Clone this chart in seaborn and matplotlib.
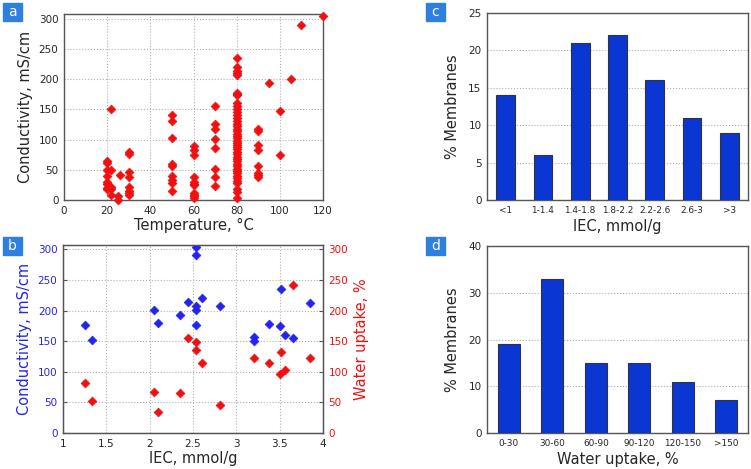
import matplotlib
matplotlib.use("Agg")
import matplotlib.pyplot as plt
import pandas as pd
import seaborn as sns
from matplotlib.patches import Rectangle

# Panel a: conductivity (mS/cm) measured at each temperature (C)
temps_a = [20, 22, 25, 26, 30, 50, 60, 70, 80, 90, 95, 100, 105, 110, 120]
cond_by_temp = [
    [65, 61, 49, 40, 30, 27, 20, 18],
    [150, 50, 22, 19, 8],
    [7, 0],
    [42],
    [80, 76, 46, 38, 22, 15, 12, 8],
    [141, 131, 103, 60, 56, 40, 33, 28, 15],
    [90, 82, 74, 38, 30, 27, 25, 12, 9, 6, 4],
    [156, 126, 118, 101, 86, 51, 38, 23],
    [235, 221, 214, 210, 207, 178, 176, 174, 160, 155, 150, 145, 140, 135,
     130, 126, 122, 118, 114, 110, 106, 102, 98, 95, 91, 88, 84, 80, 76, 72,
     68, 64, 60, 56, 52, 48, 44, 40, 36, 32, 28, 18, 14, 4],
    [118, 114, 91, 83, 56, 45, 41, 38],
    [193],
    [147, 74],
    [201],
    [290],
    [304],
]

# Panel b: conductivity and water uptake vs IEC
iec_cond = [1.25, 1.33, 2.05, 2.10, 2.35, 2.44, 2.53, 2.54, 2.54, 2.54, 2.54,
            2.60, 2.81, 3.20, 3.20, 3.38, 3.50, 3.51, 3.56, 3.65, 3.85]
cond_b = [177, 152, 201, 179, 193, 214, 176, 303, 290, 208, 201,
          221, 208, 156, 150, 178, 175, 235, 160, 155, 212]
iec_wu = [1.25, 1.33, 2.05, 2.10, 2.35, 2.44, 2.53, 2.54, 2.60, 2.81,
          3.20, 3.38, 3.50, 3.51, 3.56, 3.65, 3.85]
wu_b = [82, 53, 67, 34, 65, 155, 135, 149, 115, 45,
        122, 115, 97, 133, 103, 242, 122]

# Panel c: IEC distribution
iec_bins = ["<1", "1-1.4", "1.4-1.8", "1.8-2.2", "2.2-2.6", "2.6-3", ">3"]
iec_pct = [14, 6, 21, 22, 16, 11, 9]

# Panel d: water uptake distribution
wu_bins = ["0-30", "30-60", "60-90", "90-120", "120-150", ">150"]
wu_pct = [19, 33, 15, 15, 11, 7]

sns.set_style("white")
plt.rcParams["font.family"] = ["DejaVu Sans"]

RED = "#f01010"
BLUE = "#2424f0"
BAR = "#0a36d4"
SPINE = "#555555"

W, H = 751, 469
fig = plt.figure(figsize=(W / 100, H / 100), dpi=100)


def px_axes(left, top, right, bottom):
    return fig.add_axes([left / W, 1 - bottom / H, (right - left) / W, (bottom - top) / H])


def style_axes(ax, xgrid=True):
    for s in ax.spines.values():
        s.set_color(SPINE)
        s.set_linewidth(1.0)
    ax.tick_params(direction="in", length=3, labelsize=7.5, pad=4, color=SPINE)
    ax.grid(True, axis="both" if xgrid else "y", linestyle=":", color="#b0b0b0", linewidth=0.8)
    ax.set_axisbelow(True)


def panel_tag(letter, x, y):
    fig.patches.append(Rectangle((x / W, 1 - (y + 18) / H), 19 / W, 18 / H,
                                 transform=fig.transFigure, color="#2f7fe0", zorder=5))
    fig.text((x + 9.5) / W, 1 - (y + 9) / H, letter, color="white", fontsize=10,
             ha="center", va="center", zorder=6)


# ---- a
temp_a, cond_a = [], []
for t, vals in zip(temps_a, cond_by_temp):
    temp_a += [t] * len(vals)
    cond_a += vals

ax_a = px_axes(64, 14, 323, 200)
sns.scatterplot(x=temp_a, y=cond_a, marker="D", s=20, color=RED, edgecolor=RED,
                linewidth=0.5, ax=ax_a, zorder=3, clip_on=False)
ax_a.set_xlim(0, 120)
ax_a.set_ylim(0, 308)
ax_a.set_xticks(range(0, 121, 20))
ax_a.set_yticks(range(0, 301, 50))
style_axes(ax_a)
ax_a.set_xlabel("Temperature, °C", fontsize=10.5, labelpad=2)
ax_a.set_ylabel("Conductivity, mS/cm", fontsize=10.5, labelpad=4)

# ---- b
ax_b = px_axes(63, 245, 323, 433)
sns.scatterplot(x=iec_cond, y=cond_b, marker="D", s=20, color=BLUE, edgecolor=BLUE,
                linewidth=0.5, ax=ax_b, zorder=3)
ax_b.set_xlim(1, 4)
ax_b.set_ylim(0, 307)
ax_b.set_xticks([1, 1.5, 2, 2.5, 3, 3.5, 4])
ax_b.set_xticklabels(["1", "1.5", "2", "2.5", "3", "3.5", "4"])
ax_b.set_yticks(range(0, 301, 50))
style_axes(ax_b)
ax_b.tick_params(axis="y", labelcolor=BLUE)
ax_b.set_xlabel("IEC, mmol/g", fontsize=10.5, labelpad=2)
ax_b.set_ylabel("Conductivity, mS/cm", fontsize=10.5, color=BLUE, labelpad=4)

ax_b2 = ax_b.twinx()
sns.scatterplot(x=iec_wu, y=wu_b, marker="D", s=20, color=RED, edgecolor=RED,
                linewidth=0.5, ax=ax_b2, zorder=3)
ax_b2.set_ylim(0, 307)
ax_b2.set_yticks(range(0, 301, 50))
ax_b2.tick_params(direction="in", length=3, labelsize=7.5, pad=4, color=SPINE, labelcolor=RED)
for s in ax_b2.spines.values():
    s.set_color(SPINE)
ax_b2.set_ylabel("Water uptake, %", fontsize=10.5, color=RED, labelpad=4)

# ---- c
ax_c = px_axes(487, 13, 748, 200)
sns.barplot(x=iec_bins, y=iec_pct, color=BAR, saturation=1, width=0.5,
            edgecolor="#333333", linewidth=0.8, ax=ax_c, zorder=3)
ax_c.set_xlim(-0.5, len(iec_bins) - 0.5)
ax_c.set_ylim(0, 25)
ax_c.set_yticks(range(0, 26, 5))
style_axes(ax_c, xgrid=False)
ax_c.tick_params(axis="x", labelsize=6.4, length=0)
ax_c.set_xlabel("IEC, mmol/g", fontsize=10.5, labelpad=3)
ax_c.set_ylabel("% Membranes", fontsize=10.5, labelpad=6)

# ---- d
ax_d = px_axes(487, 246, 748, 433)
sns.barplot(x=wu_bins, y=wu_pct, color=BAR, saturation=1, width=0.5,
            edgecolor="#333333", linewidth=0.8, ax=ax_d, zorder=3)
ax_d.set_xlim(-0.5, len(wu_bins) - 0.5)
ax_d.set_ylim(0, 40)
ax_d.set_yticks(range(0, 41, 10))
style_axes(ax_d, xgrid=False)
ax_d.tick_params(axis="x", labelsize=6.4, length=0)
ax_d.set_xlabel("Water uptake, %", fontsize=10.5, labelpad=3)
ax_d.set_ylabel("% Membranes", fontsize=10.5, labelpad=6)

panel_tag("a", 3, 3)
panel_tag("b", 3, 237)
panel_tag("c", 426, 3)
panel_tag("d", 426, 237)

fig.savefig("out.png", dpi=100)
